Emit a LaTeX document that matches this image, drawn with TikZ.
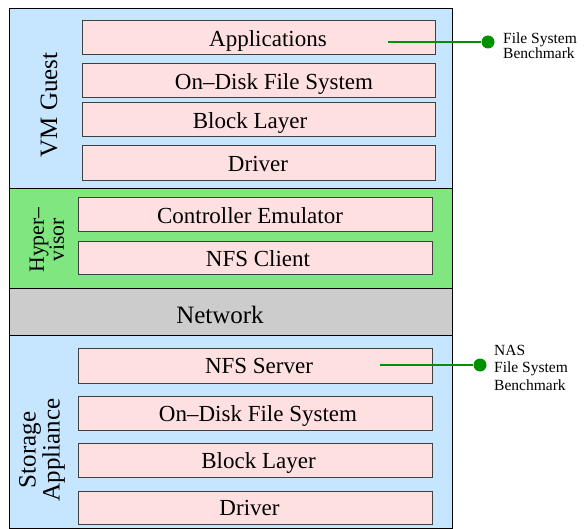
\documentclass[tikz,border=0pt]{standalone}
\usepackage{fontspec}
\setmainfont{Liberation Serif}
\definecolor{guestblue}{RGB}{198,230,255}
\definecolor{hypergreen}{RGB}{128,230,128}
\definecolor{netgray}{RGB}{204,204,204}
\definecolor{layerpink}{RGB}{255,224,224}
\definecolor{benchgreen}{RGB}{0,145,0}
\tikzset{
  section/.style={draw=black, line width=0.9pt},
  layerbox/.style={draw=black!75, fill=layerpink, line width=1pt},
  layertext/.style={font=\fontsize{23}{27}\selectfont, anchor=base, inner sep=0pt},
  sidetext/.style={font=\fontsize{25}{24}\selectfont, rotate=90, align=center, inner sep=0pt},
  benchdot/.style={circle, fill=benchgreen, inner sep=0pt, minimum size=13pt},
  benchline/.style={draw=benchgreen, line width=1.2pt},
  benchtext/.style={font=\fontsize{15.5}{15}\selectfont, align=left, anchor=north west, inner sep=0pt},
}
\begin{document}
\begin{tikzpicture}[x=1pt,y=-1pt]
  \useasboundingbox (0,0) rectangle (586,529);
  % sections
  \draw[section, fill=guestblue] (9,8) rectangle (452,188);
  \draw[section, fill=hypergreen] (9,188) rectangle (452,288);
  \draw[section, fill=netgray] (9,288) rectangle (452,335);
  \draw[section, fill=guestblue] (9,335) rectangle (452,528.5);
  \node[sidetext] (guest) at (49,105) {VM Guest};
  \node[sidetext, font=\fontsize{21.7}{20}\selectfont] (hyper) at (47,240) {Hyper–\\visor};
  \node[layertext, font=\fontsize{25}{27}\selectfont] (net) at (220,323) {Network};
  \node[sidetext] (storage) at (42,450) {Storage\\Appliance};
  % guest layers
  \draw[layerbox] (82,21) rectangle (435,55);
  \draw[layerbox] (82,64) rectangle (435,98);
  \draw[layerbox] (82,103) rectangle (435,137);
  \draw[layerbox] (82,146) rectangle (435,181);
  \node[layertext] (gapps) at (268,46.5) {Applications};
  \node[layertext] (gfs) at (274,89.5) {On–Disk File System};
  \node[layertext] (gblock) at (250,128.3) {Block Layer};
  \node[layertext] (gdriver) at (258,171.7) {Driver};
  % hypervisor layers
  \draw[layerbox] (78,198) rectangle (432,232);
  \draw[layerbox] (78,242) rectangle (432,275);
  \node[layertext] (hctrl) at (250,223.3) {Controller Emulator};
  \node[layertext] (hnfs) at (258,266.8) {NFS Client};
  % storage layers
  \draw[layerbox] (78,348) rectangle (432,383);
  \draw[layerbox] (78,396) rectangle (432,430);
  \draw[layerbox] (78,443) rectangle (432,477);
  \draw[layerbox] (78,491) rectangle (432,524);
  \node[layertext] (snfs) at (259,373.8) {NFS Server};
  \node[layertext] (sfs) at (258,421.3) {On–Disk File System};
  \node[layertext] (sblock) at (258.5,468.3) {Block Layer};
  \node[layertext] (sdriver) at (249.5,515.8) {Driver};
  % benchmarks
  \coordinate (appsport) at (388,42);
  \node[benchdot] (appsdot) at (488,42) {};
  \draw[benchline] (appsport) -- (appsdot);
  \node[benchtext] (fsbench) at (503,33) {File System\\Benchmark};
  \coordinate (nasport) at (380,365);
  \node[benchdot] (nasdot) at (480,365) {};
  \draw[benchline] (nasport) -- (nasdot);
  \node[benchtext, font=\fontsize{15.5}{17.5}\selectfont] (nasbench) at (494,345) {NAS\\File System\\Benchmark};
\end{tikzpicture}
\end{document}
